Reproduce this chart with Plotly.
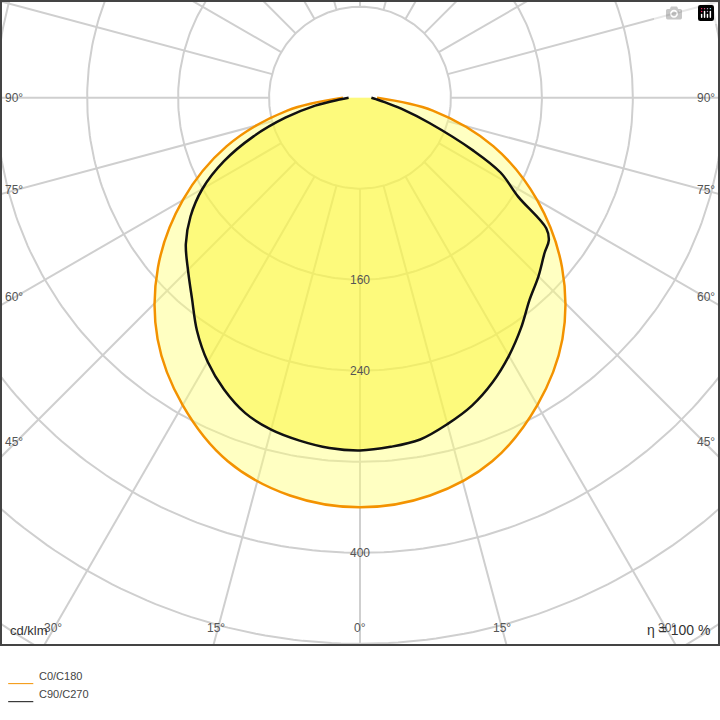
import numpy as np
import plotly.graph_objects as go

# Data (cd/klm) vs angle from nadir (deg), negative = left side
ang_c0 = [-90,-80,-70,-60,-50,-40,-30,-20,-10,0,10,20,30,40,50,60,70,80,90]
val_c0 = [15,65,125,180,232,277,312,340,355,360,355,340,312,277,232,180,125,65,15]
ang_c90 = [-90,-85,-80,-75,-70,-65,-60,-55,-50,-45,-40,-35,-30,-25,-20,-15,-10,-5,0,5,10,15,20,25,30,35,40,45,50,53,55,58,62,65,70,75,80,85,90]
val_c90 = [10,18,40,68,100,132,160,182,200,214,230,250,268,283,295,302,306,309,310,308,305,297,288,276,262,247,232,222,212,208,200,164,140,110,65,38,22,14,10]
grid_r = [80,160,240,320,400,480,560,640]
grid_ang = list(range(0,360,15))
r_labels = [160,240,400]

def xy(a, r):
    t = np.radians(np.array(a, float)); r = np.array(r, float)
    return r*np.sin(t), -r*np.cos(t)

fig = go.Figure()
gc = "#cfcfcf"
for a in grid_ang:
    x, y = xy([a, a], [80, 800])
    fig.add_trace(go.Scatter(x=x, y=y, mode="lines", line=dict(color=gc, width=2), hoverinfo="skip"))
tt = np.linspace(0, 360, 361)
for r in grid_r:
    x, y = xy(tt, [r]*len(tt))
    fig.add_trace(go.Scatter(x=x, y=y, mode="lines", line=dict(color=gc, width=2), hoverinfo="skip"))

x0, y0 = xy(ang_c0, val_c0)
fig.add_trace(go.Scatter(x=x0, y=y0, mode="lines", fill="toself", fillcolor="rgba(255,255,120,0.45)",
                         line=dict(color="#f39200", width=2.5), line_shape="spline"))
x1, y1 = xy(ang_c90, val_c90)
fig.add_trace(go.Scatter(x=x1, y=y1, mode="lines", fill="toself", fillcolor="rgba(250,245,40,0.45)",
                         line=dict(color="#111111", width=2.5), line_shape="spline"))

ann = []
fnt = dict(family="Liberation Sans, Arial", size=12, color="#555")
for r in r_labels:
    ann.append(dict(x=0, y=-r, text=str(r), showarrow=False, font=fnt))
for lab, yv in [("90°", 0), ("75°", -80.7), ("60°", -175), ("45°", -303)]:
    ann.append(dict(x=-304, y=yv, text=lab, showarrow=False, font=fnt))
    ann.append(dict(x=304, y=yv, text=lab, showarrow=False, font=fnt))
for lab, xv in [("30°", -270), ("15°", -127), ("0°", 0), ("15°", 125), ("30°", 270)]:
    ann.append(dict(x=xv, y=-466, text=lab, showarrow=False, font=fnt))
ann.append(dict(x=0.01, y=0.007, xref="paper", yref="paper", text="cd/klm", showarrow=False,
                xanchor="left", yanchor="bottom", font=dict(family="Liberation Sans, Arial", size=13, color="#333")))
ann.append(dict(x=0.99, y=0.007, xref="paper", yref="paper", text="η = 100 %", showarrow=False,
                xanchor="right", yanchor="bottom", font=dict(family="Liberation Sans, Arial", size=14, color="#333")))
ann.append(dict(x=0.05, y=-0.06, xref="paper", yref="paper", text="C0/C180", showarrow=False,
                xanchor="left", font=dict(family="Liberation Sans, Arial", size=11, color="#444")))
ann.append(dict(x=0.05, y=-0.088, xref="paper", yref="paper", text="C90/C270", showarrow=False,
                xanchor="left", font=dict(family="Liberation Sans, Arial", size=11, color="#444")))

shapes = [
    dict(type="rect", xref="paper", yref="paper", x0=0, y0=0, x1=1, y1=1, line=dict(color="#444", width=2)),
    dict(type="line", xref="paper", yref="paper", x0=0.01, x1=0.045, y0=-0.06, y1=-0.06, line=dict(color="#f39200", width=1)),
    dict(type="line", xref="paper", yref="paper", x0=0.01, x1=0.045, y0=-0.088, y1=-0.088, line=dict(color="#111", width=1)),
]

fig.update_layout(width=720, height=720, margin=dict(l=1, r=1, t=1, b=75),
                  showlegend=False, plot_bgcolor="white", paper_bgcolor="white",
                  xaxis=dict(range=[-315.8, 315.8], visible=False, fixedrange=True),
                  yaxis=dict(range=[-481, 85], visible=False, fixedrange=True),
                  annotations=ann, shapes=shapes)
fig.write_html("out.html")
with open("out.html", encoding="utf-8") as f:
    html = f.read()
html = html.replace("<head>", "<head><style>html,body{margin:0;padding:0;overflow:hidden;}</style>", 1)
with open("out.html", "w", encoding="utf-8") as f:
    f.write(html)
